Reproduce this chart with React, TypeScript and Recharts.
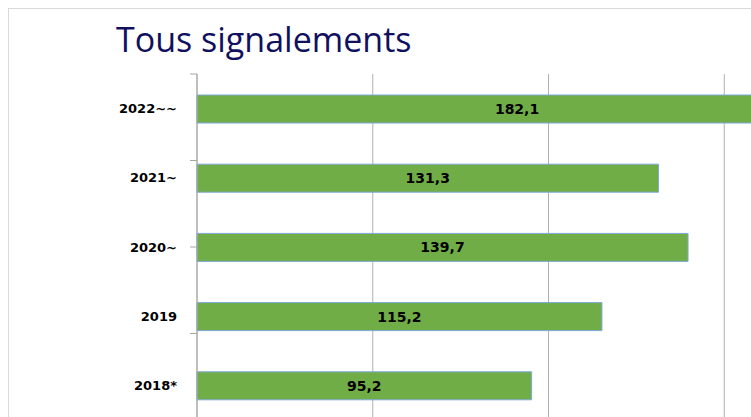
import { BarChart, Bar, XAxis, YAxis, CartesianGrid, LabelList } from 'recharts'

const YEARS = ['2022~~', '2021~', '2020~', '2019', '2018*']
const REPORTS = [182.1, 131.3, 139.7, 115.2, 95.2]
const X_TICKS = [0, 50, 100, 150, 200]
const BAND_EDGES = [0, 1, 2, 3, 4, 5]

const data = YEARS.map((year, i) => ({ year, value: REPORTS[i] }))

const fmt = (v: number) => v.toFixed(1).replace('.', ',')

export default function App() {
  return (
    <div
      style={{
        position: 'absolute',
        left: 0,
        top: 0,
        width: 751,
        height: 417,
        overflow: 'hidden',
        background: '#fff',
      }}
    >
      <div
        style={{
          position: 'absolute',
          left: 8,
          top: 8,
          width: 900,
          height: 600,
          border: '1px solid #d9d9d9',
        }}
      />
      <div
        style={{
          position: 'absolute',
          left: 116,
          top: 16,
          fontFamily: '"Open Sans", sans-serif',
          fontSize: 34,
          lineHeight: '46px',
          color: '#10105e',
          whiteSpace: 'nowrap',
        }}
      >
        Tous signalements
      </div>
      <div style={{ position: 'absolute', left: 0, top: 0 }}>
        <BarChart
          width={920}
          height={460}
          data={data}
          layout="vertical"
          margin={{ top: 74, right: 20, bottom: 40, left: 0 }}
        >
          <CartesianGrid horizontal={false} stroke="#b0b0b0" />
          <XAxis type="number" domain={[0, 200]} ticks={X_TICKS} hide />
          <YAxis
            yAxisId="cat"
            type="category"
            dataKey="year"
            width={196}
            axisLine={false}
            tickLine={false}
            tickSize={0}
            tickMargin={19}
            tick={{ fill: '#000', fontSize: 13, fontWeight: 700, fontFamily: '"DejaVu Sans", sans-serif' }}
          />
          <YAxis
            yAxisId="aEdges"
            type="number"
            domain={[0, 5]}
            ticks={BAND_EDGES}
            width={1}
            tickSize={7}
            tickFormatter={() => ''}
            axisLine={{ stroke: '#a6a6a6' }}
            tickLine={{ stroke: '#a6a6a6' }}
          />
          <Bar
            yAxisId="cat"
            dataKey="value"
            fill="#70ad47"
            stroke="#7fa8d8"
            strokeWidth={1}
            barSize={28}
            isAnimationActive={false}
          >
            <LabelList
              dataKey="value"
              position="center"
              formatter={(v: number) => fmt(v)}
              style={{ fill: '#000', fontSize: 14, fontWeight: 700, fontFamily: '"DejaVu Sans", sans-serif' }}
            />
          </Bar>
        </BarChart>
      </div>
    </div>
  )
}
